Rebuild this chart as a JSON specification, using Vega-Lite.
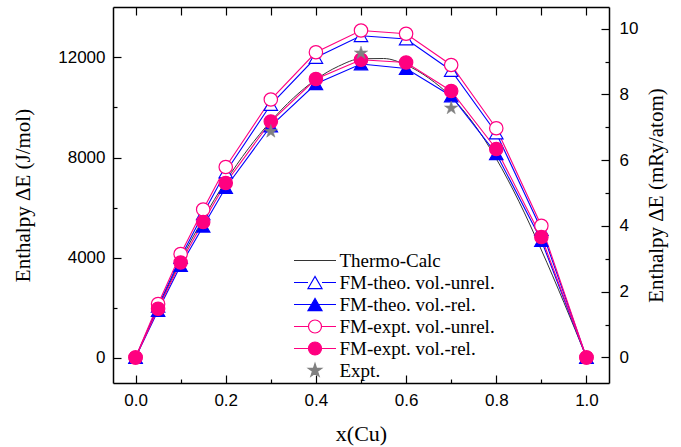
{
  "$schema": "https://vega.github.io/schema/vega-lite/v6.json",
  "width": 496,
  "height": 376,
  "autosize": {"type": "none"},
  "padding": {"left": 113, "top": 7, "right": 72, "bottom": 64},
  "background": "white",
  "config": {
    "view": {"stroke": null},
    "axis": {
      "grid": false,
      "domainColor": "black",
      "domainWidth": 1.5,
      "tickColor": "black",
      "tickWidth": 1.2,
      "labelFont": "Liberation Sans",
      "labelFontSize": 17,
      "labelColor": "black",
      "titleFont": "Liberation Serif",
      "titleFontWeight": "normal",
      "titleColor": "black"
    }
  },
  "datasets": {
    "thermo": [
      {"x": 0, "E": 0, "s": "Thermo-Calc"},
      {"x": 0.05, "E": 1980, "s": "Thermo-Calc"},
      {"x": 0.1, "E": 3880, "s": "Thermo-Calc"},
      {"x": 0.15, "E": 5550, "s": "Thermo-Calc"},
      {"x": 0.2, "E": 7050, "s": "Thermo-Calc"},
      {"x": 0.25, "E": 8350, "s": "Thermo-Calc"},
      {"x": 0.3, "E": 9450, "s": "Thermo-Calc"},
      {"x": 0.35, "E": 10380, "s": "Thermo-Calc"},
      {"x": 0.4, "E": 11120, "s": "Thermo-Calc"},
      {"x": 0.45, "E": 11650, "s": "Thermo-Calc"},
      {"x": 0.5, "E": 11950, "s": "Thermo-Calc"},
      {"x": 0.55, "E": 11960, "s": "Thermo-Calc"},
      {"x": 0.6, "E": 11700, "s": "Thermo-Calc"},
      {"x": 0.65, "E": 11180, "s": "Thermo-Calc"},
      {"x": 0.7, "E": 10420, "s": "Thermo-Calc"},
      {"x": 0.75, "E": 9350, "s": "Thermo-Calc"},
      {"x": 0.8, "E": 7950, "s": "Thermo-Calc"},
      {"x": 0.85, "E": 6250, "s": "Thermo-Calc"},
      {"x": 0.9, "E": 4300, "s": "Thermo-Calc"},
      {"x": 0.95, "E": 2200, "s": "Thermo-Calc"},
      {"x": 1.0, "E": 0, "s": "Thermo-Calc"}
    ],
    "fm": [
      {"x": 0, "E": 0, "s": "FM-theo. vol.-unrel."},
      {"x": 0.05, "E": 2050, "s": "FM-theo. vol.-unrel."},
      {"x": 0.1, "E": 4000, "s": "FM-theo. vol.-unrel."},
      {"x": 0.15, "E": 5750, "s": "FM-theo. vol.-unrel."},
      {"x": 0.2, "E": 7420, "s": "FM-theo. vol.-unrel."},
      {"x": 0.3, "E": 10120, "s": "FM-theo. vol.-unrel."},
      {"x": 0.4, "E": 12000, "s": "FM-theo. vol.-unrel."},
      {"x": 0.5, "E": 12870, "s": "FM-theo. vol.-unrel."},
      {"x": 0.6, "E": 12740, "s": "FM-theo. vol.-unrel."},
      {"x": 0.7, "E": 11480, "s": "FM-theo. vol.-unrel."},
      {"x": 0.8, "E": 8980, "s": "FM-theo. vol.-unrel."},
      {"x": 0.9, "E": 5120, "s": "FM-theo. vol.-unrel."},
      {"x": 1.0, "E": 0, "s": "FM-theo. vol.-unrel."},
      {"x": 0, "E": 0, "s": "FM-theo. vol.-rel."},
      {"x": 0.05, "E": 1880, "s": "FM-theo. vol.-rel."},
      {"x": 0.1, "E": 3680, "s": "FM-theo. vol.-rel."},
      {"x": 0.15, "E": 5250, "s": "FM-theo. vol.-rel."},
      {"x": 0.2, "E": 6800, "s": "FM-theo. vol.-rel."},
      {"x": 0.3, "E": 9260, "s": "FM-theo. vol.-rel."},
      {"x": 0.4, "E": 10950, "s": "FM-theo. vol.-rel."},
      {"x": 0.5, "E": 11740, "s": "FM-theo. vol.-rel."},
      {"x": 0.6, "E": 11560, "s": "FM-theo. vol.-rel."},
      {"x": 0.7, "E": 10460, "s": "FM-theo. vol.-rel."},
      {"x": 0.8, "E": 8150, "s": "FM-theo. vol.-rel."},
      {"x": 0.9, "E": 4680, "s": "FM-theo. vol.-rel."},
      {"x": 1.0, "E": 0, "s": "FM-theo. vol.-rel."},
      {"x": 0, "E": 0, "s": "FM-expt. vol.-unrel."},
      {"x": 0.05, "E": 2140, "s": "FM-expt. vol.-unrel."},
      {"x": 0.1, "E": 4140, "s": "FM-expt. vol.-unrel."},
      {"x": 0.15, "E": 5920, "s": "FM-expt. vol.-unrel."},
      {"x": 0.2, "E": 7620, "s": "FM-expt. vol.-unrel."},
      {"x": 0.3, "E": 10320, "s": "FM-expt. vol.-unrel."},
      {"x": 0.4, "E": 12210, "s": "FM-expt. vol.-unrel."},
      {"x": 0.5, "E": 13080, "s": "FM-expt. vol.-unrel."},
      {"x": 0.6, "E": 12950, "s": "FM-expt. vol.-unrel."},
      {"x": 0.7, "E": 11700, "s": "FM-expt. vol.-unrel."},
      {"x": 0.8, "E": 9170, "s": "FM-expt. vol.-unrel."},
      {"x": 0.9, "E": 5270, "s": "FM-expt. vol.-unrel."},
      {"x": 1.0, "E": 0, "s": "FM-expt. vol.-unrel."},
      {"x": 0, "E": 0, "s": "FM-expt. vol.-rel."},
      {"x": 0.05, "E": 1950, "s": "FM-expt. vol.-rel."},
      {"x": 0.1, "E": 3800, "s": "FM-expt. vol.-rel."},
      {"x": 0.15, "E": 5420, "s": "FM-expt. vol.-rel."},
      {"x": 0.2, "E": 6980, "s": "FM-expt. vol.-rel."},
      {"x": 0.3, "E": 9440, "s": "FM-expt. vol.-rel."},
      {"x": 0.4, "E": 11140, "s": "FM-expt. vol.-rel."},
      {"x": 0.5, "E": 11910, "s": "FM-expt. vol.-rel."},
      {"x": 0.6, "E": 11800, "s": "FM-expt. vol.-rel."},
      {"x": 0.7, "E": 10660, "s": "FM-expt. vol.-rel."},
      {"x": 0.8, "E": 8340, "s": "FM-expt. vol.-rel."},
      {"x": 0.9, "E": 4820, "s": "FM-expt. vol.-rel."},
      {"x": 1.0, "E": 0, "s": "FM-expt. vol.-rel."}
    ],
    "expt": [
      {"x": 0.3, "E": 9040, "s": "Expt."},
      {"x": 0.5, "E": 12176, "s": "Expt."},
      {"x": 0.7, "E": 9976, "s": "Expt."}
    ],
    "ax": [{"v": 0}]
  },
  "resolve": {
    "scale": {"y": "independent"},
    "axis": {"x": "independent", "y": "independent"}
  },
  "layer": [
    {
      "data": {"name": "thermo"},
      "mark": {"type": "line", "interpolate": "monotone", "strokeWidth": 1},
      "encoding": {
        "x": {
          "field": "x", "type": "quantitative",
          "scale": {"domain": [-0.05, 1.05], "nice": false, "zero": false},
          "axis": {
            "orient": "bottom", "values": [0, 0.2, 0.4, 0.6, 0.8, 1.0], "format": ".1f",
            "tickSize": -8, "labelPadding": 17,
            "title": "x(Cu)", "titleFontSize": 22, "titlePadding": 15
          }
        },
        "y": {
          "field": "E", "type": "quantitative",
          "scale": {"domain": [-1020, 14020], "nice": false, "zero": false},
          "axis": {
            "orient": "left", "values": [0, 4000, 8000, 12000], "format": "d",
            "tickSize": -8, "labelPadding": 16,
            "title": "Enthalpy ΔE (J/mol)", "titleFontSize": 21, "titlePadding": 24
          }
        },
        "stroke": {
          "field": "s", "type": "nominal",
          "scale": {
            "domain": ["Thermo-Calc", "FM-theo. vol.-unrel.", "FM-theo. vol.-rel.", "FM-expt. vol.-unrel.", "FM-expt. vol.-rel.", "Expt."],
            "range": ["#333333", "#0000ff", "#0000ff", "#ff0080", "#ff0080", "#808080"]
          },
          "legend": {
            "orient": "none", "legendX": 179, "legendY": 244,
            "title": null, "padding": 0,
            "symbolSize": 196, "symbolOffset": 13.5, "labelOffset": 15,
            "rowPadding": 2,
            "labelFont": "Liberation Serif", "labelFontSize": 19, "labelColor": "black",
            "labelLimit": 300,
            "encode": {
              "symbols": {
                "update": {
                  "shape": {"signal": "datum.value == 'Thermo-Calc' ? 'M-3,0H3' : datum.value == 'FM-theo. vol.-unrel.' ? 'M-3,0H-1M1,0H3M0,-0.866L-1,0.866L1,0.866Z' : datum.value == 'FM-theo. vol.-rel.' ? 'M-3,0H3M0,-0.866L-1,0.866L1,0.866Z' : datum.value == 'FM-expt. vol.-unrel.' ? 'M-3,0H-0.93M0.93,0H3M-0.93,0A0.93,0.93,0,1,1,0.93,0A0.93,0.93,0,1,1,-0.93,0Z' : datum.value == 'FM-expt. vol.-rel.' ? 'M-3,0H3M-0.93,0A0.93,0.93,0,1,1,0.93,0A0.93,0.93,0,1,1,-0.93,0Z' : 'M0,-1L0.2245,-0.309L0.951,-0.309L0.363,0.118L0.588,0.809L0,0.382L-0.588,0.809L-0.363,0.118L-0.951,-0.309L-0.2245,-0.309Z'"},
                  "fill": {"signal": "datum.value == 'FM-theo. vol.-rel.' ? '#0000ff' : datum.value == 'FM-expt. vol.-rel.' ? '#ff0080' : datum.value == 'Expt.' ? '#808080' : 'transparent'"},
                  "stroke": {"signal": "datum.value == 'Thermo-Calc' ? '#333333' : indexof(datum.value, 'theo') >= 0 ? '#0000ff' : indexof(datum.value, 'expt.') >= 0 ? '#ff0080' : '#808080'"},
                  "size": {"value": 196},
                  "strokeWidth": {"value": 1.2},
                  "opacity": {"value": 1},
                  "fillOpacity": {"value": 1}
                }
              }
            }
          }
        }
      }
    },
    {
      "data": {"name": "fm"},
      "mark": {"type": "line", "strokeWidth": 1.1},
      "encoding": {
        "x": {
          "field": "x", "type": "quantitative",
          "scale": {"domain": [-0.05, 1.05], "nice": false, "zero": false},
          "axis": {"orient": "bottom", "values": [0.1, 0.3, 0.5, 0.7, 0.9], "tickSize": -4, "labels": false, "domain": false, "title": null}
        },
        "y": {
          "field": "E", "type": "quantitative",
          "scale": {"domain": [-1020, 14020], "nice": false, "zero": false},
          "axis": {"orient": "left", "values": [2000, 6000, 10000], "tickSize": -4, "labels": false, "domain": false, "title": null}
        },
        "stroke": {
          "field": "s", "type": "nominal",
          "scale": {
            "domain": ["Thermo-Calc", "FM-theo. vol.-unrel.", "FM-theo. vol.-rel.", "FM-expt. vol.-unrel.", "FM-expt. vol.-rel.", "Expt."],
            "range": ["#333333", "#0000ff", "#0000ff", "#ff0080", "#ff0080", "#808080"]
          }
        }
      }
    },
    {
      "data": {"name": "fm"},
      "mark": {"type": "point", "size": 180, "strokeWidth": 1.2, "opacity": 1},
      "encoding": {
        "x": {
          "field": "x", "type": "quantitative",
          "scale": {"domain": [-0.05, 1.05], "nice": false, "zero": false},
          "axis": {"orient": "top", "values": [0, 0.1, 0.2, 0.3, 0.4, 0.5, 0.6, 0.7, 0.8, 0.9, 1.0], "tickSize": -8, "labels": false, "domain": true, "title": null}
        },
        "y": {
          "field": "E", "type": "quantitative",
          "scale": {"domain": [-1020, 14020], "nice": false, "zero": false},
          "axis": null
        },
        "stroke": {
          "field": "s", "type": "nominal",
          "scale": {
            "domain": ["Thermo-Calc", "FM-theo. vol.-unrel.", "FM-theo. vol.-rel.", "FM-expt. vol.-unrel.", "FM-expt. vol.-rel.", "Expt."],
            "range": ["#333333", "#0000ff", "#0000ff", "#ff0080", "#ff0080", "#808080"]
          }
        },
        "shape": {
          "field": "s", "type": "nominal",
          "scale": {
            "domain": ["FM-theo. vol.-unrel.", "FM-theo. vol.-rel.", "FM-expt. vol.-unrel.", "FM-expt. vol.-rel."],
            "range": ["triangle-up", "triangle-up", "circle", "circle"]
          },
          "legend": null
        },
        "fill": {
          "field": "s", "type": "nominal",
          "scale": {
            "domain": ["FM-theo. vol.-unrel.", "FM-theo. vol.-rel.", "FM-expt. vol.-unrel.", "FM-expt. vol.-rel."],
            "range": ["#ffffff", "#0000ff", "#ffffff", "#ff0080"]
          },
          "legend": null
        }
      }
    },
    {
      "data": {"name": "expt"},
      "mark": {"type": "point", "filled": true, "size": 196, "opacity": 1, "fill": "#808080", "strokeWidth": 0.5,
        "shape": "M0,-1L0.2245,-0.309L0.951,-0.309L0.363,0.118L0.588,0.809L0,0.382L-0.588,0.809L-0.363,0.118L-0.951,-0.309L-0.2245,-0.309Z"},
      "encoding": {
        "x": {
          "field": "x", "type": "quantitative",
          "scale": {"domain": [-0.05, 1.05], "nice": false, "zero": false},
          "axis": null
        },
        "y": {
          "field": "E", "type": "quantitative",
          "scale": {"domain": [-1020, 14020], "nice": false, "zero": false},
          "axis": null
        },
        "stroke": {
          "field": "s", "type": "nominal",
          "scale": {
            "domain": ["Thermo-Calc", "FM-theo. vol.-unrel.", "FM-theo. vol.-rel.", "FM-expt. vol.-unrel.", "FM-expt. vol.-rel.", "Expt."],
            "range": ["#333333", "#0000ff", "#0000ff", "#ff0080", "#ff0080", "#808080"]
          }
        }
      }
    },
    {
      "data": {"name": "ax"},
      "mark": {"type": "rule", "strokeOpacity": 0},
      "encoding": {
        "y": {
          "field": "v", "type": "quantitative",
          "scale": {"domain": [-0.7757, 10.6616], "nice": false, "zero": false},
          "axis": {
            "orient": "right", "values": [0, 2, 4, 6, 8, 10], "format": "d",
            "tickSize": -8, "labelPadding": 18,
            "title": "Enthalpy ΔE (mRy/atom)", "titleFontSize": 21, "titlePadding": 8,
            "titleAngle": 270, "titleBaseline": "top"
          }
        }
      }
    },
    {
      "data": {"name": "ax"},
      "mark": {"type": "rule", "strokeOpacity": 0},
      "encoding": {
        "y": {
          "field": "v", "type": "quantitative",
          "scale": {"domain": [-0.7757, 10.6616], "nice": false, "zero": false},
          "axis": {"orient": "right", "values": [1, 3, 5, 7, 9], "tickSize": -4, "labels": false, "domain": false, "title": null}
        }
      }
    }
  ]
}
